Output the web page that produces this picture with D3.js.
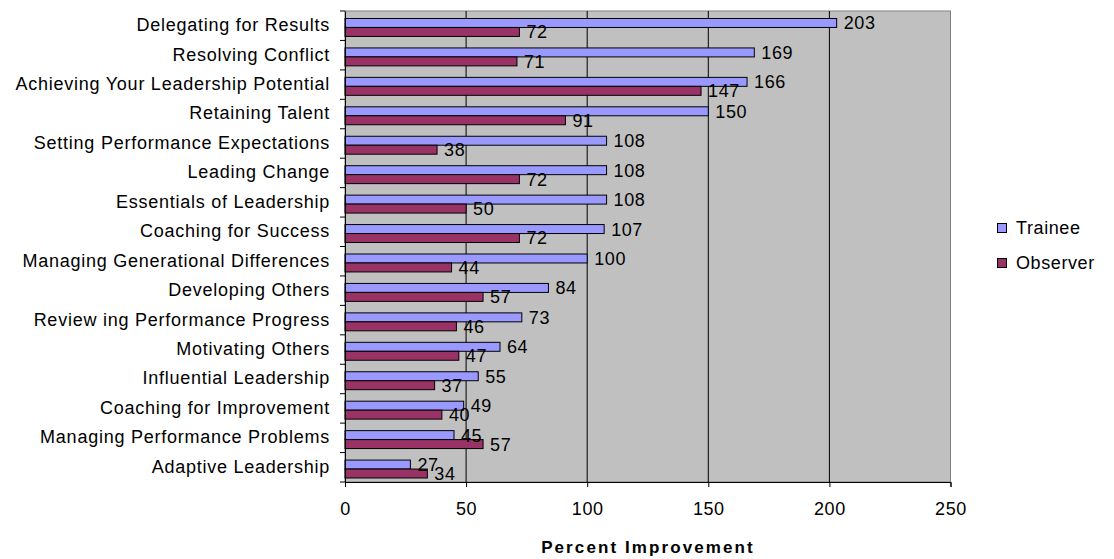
<!DOCTYPE html>
<html><head><meta charset="utf-8">
<script src="https://cdn.jsdelivr.net/npm/d3@7"></script>
<style>body{margin:0;background:#fff;}svg{display:block;font-family:"Liberation Sans",Arial,sans-serif;}</style>
</head><body>
<svg id="c" width="1114" height="559"></svg>
<script>
const categories = ["Delegating for Results","Resolving Conflict","Achieving Your Leadership Potential","Retaining Talent","Setting Performance Expectations","Leading Change","Essentials of Leadership ","Coaching for Success","Managing Generational Differences","Developing Others","Review ing Performance Progress","Motivating Others","Influential Leadership","Coaching for Improvement","Managing Performance Problems","Adaptive Leadership"];
const trainee = [203,169,166,150,108,108,108,107,100,84,73,64,55,49,45,27];
const observer = [72,71,147,91,38,72,50,72,44,57,46,47,37,40,57,34];
const xTicks = [0,50,100,150,200,250];
const seriesNames = ["Trainee","Observer"];
const colors = ["#9999FF","#993366"];

const svg = d3.select("#c");
const L=345, R=950.5, T=11, B=482;
const x = d3.scaleLinear().domain([0,250]).range([L,R]);
const y = d3.scaleBand().domain(categories).range([T,B]);
const sub = d3.scaleBand().domain(seriesNames).range([7.5, y.bandwidth()-4]);

svg.append("rect").attr("x",L).attr("y",T).attr("width",R-L).attr("height",B-T)
  .attr("fill","#C0C0C0").attr("stroke","#808080").attr("stroke-width",1);
svg.append("g").selectAll("line").data(xTicks.slice(1,-1)).join("line")
  .attr("x1",d=>x(d)).attr("x2",d=>x(d)).attr("y1",T).attr("y2",B)
  .attr("stroke","#000").attr("stroke-width",1);

const series=[trainee,observer];
series.forEach((vals,si)=>{
  const g=svg.append("g");
  g.selectAll("rect").data(vals).join("rect")
    .attr("x",x(0)).attr("y",(d,i)=>y(categories[i])+sub(seriesNames[si]))
    .attr("width",d=>x(d)-x(0)).attr("height",sub.bandwidth())
    .attr("fill",colors[si]).attr("stroke","#000").attr("stroke-width",1);
});
series.forEach((vals,si)=>{
  svg.append("g").selectAll("text").data(vals).join("text")
    .attr("x",d=>x(d)+7).attr("y",(d,i)=>y(categories[i])+sub(seriesNames[si])+sub.bandwidth()/2)
    .attr("dy","0.36em").attr("font-size",18).attr("letter-spacing","0.6px").attr("fill","#000").text(d=>d);
});

// axes
const xa = svg.append("g").attr("transform",`translate(0,${B})`)
  .call(d3.axisBottom(x).tickValues(xTicks).tickSize(5).tickPadding(15));
xa.select(".domain").attr("stroke","#000");
xa.selectAll("text").attr("font-size",18).attr("letter-spacing","0.6px").attr("font-family","Liberation Sans, Arial, sans-serif").attr("fill","#000");
const ya = svg.append("g").attr("transform",`translate(${L},0)`)
  .call(d3.axisLeft(y).tickSize(0).tickPadding(15));
ya.select(".domain").attr("stroke","#000");
ya.selectAll("text").attr("font-size",18).attr("letter-spacing","0.75px").attr("font-family","Liberation Sans, Arial, sans-serif").attr("fill","#000").attr("dy","0.3em");
svg.append("g").selectAll("line").data(d3.range(categories.length+1)).join("line")
  .attr("x1",L-5).attr("x2",L).attr("y1",i=>T+i*y.step()).attr("y2",i=>T+i*y.step()).attr("stroke","#000");

svg.append("text").attr("x",648).attr("y",553).attr("text-anchor","middle")
  .attr("font-size",17).attr("font-weight","bold").attr("letter-spacing","2.1px").text("Percent Improvement");

// legend
const lg = svg.append("g");
seriesNames.forEach((n,i)=>{
  const yy = 228 + i*35;
  lg.append("rect").attr("x",997.5).attr("y",yy-4.5).attr("width",9).attr("height",9)
    .attr("fill",colors[i]).attr("stroke","#000");
  lg.append("text").attr("x",1016).attr("y",yy).attr("dy","0.36em").attr("font-size",18).attr("letter-spacing","0.6px").text(n);
});
</script>
</body></html>
